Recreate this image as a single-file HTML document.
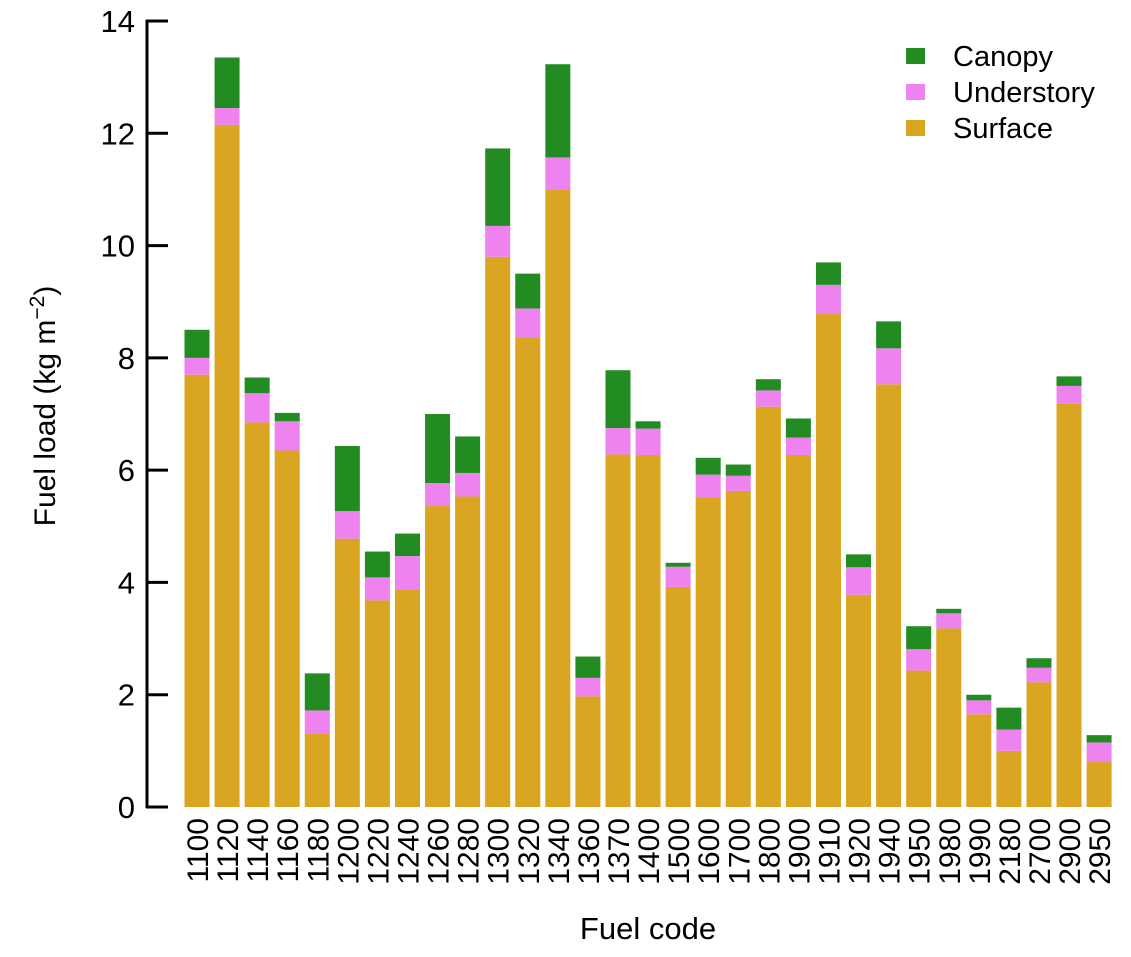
<!DOCTYPE html>
<html><head><meta charset="utf-8"><style>
body{margin:0;background:#fff;}
svg{display:block;font-family:"Liberation Sans",Arial,sans-serif;}
</style></head><body>
<div style="position:relative;width:1131px;height:957px">
<svg id="chart" width="1131" height="957" style="position:absolute;left:0;top:0"></svg>
<svg width="1131" height="957" style="position:absolute;left:0;top:0">
<text x="648" y="939" text-anchor="middle" font-size="31" font-family="Liberation Sans,sans-serif">Fuel code</text>
<text transform="translate(55,406) rotate(-90)" text-anchor="middle" font-size="30" font-family="Liberation Sans,sans-serif">Fuel load (kg m<tspan dy="-11" font-size="21">−2</tspan><tspan dy="11">)</tspan></text>
<g font-family="Liberation Sans,sans-serif" font-size="29">
<rect x="906" y="48" width="19" height="16" fill="#228B22"/>
<text x="953" y="66">Canopy</text>
<rect x="906" y="84" width="19" height="16" fill="#EE82EE"/>
<text x="953" y="102">Understory</text>
<rect x="906" y="120" width="19" height="16" fill="#DAA520"/>
<text x="953" y="138">Surface</text>
</g>
</svg>
</div>
<script>
const categories=["1100","1120","1140","1160","1180","1200","1220","1240","1260","1280","1300","1320","1340","1360","1370","1400","1500","1600","1700","1800","1900","1910","1920","1940","1950","1980","1990","2180","2700","2900","2950"];
const surface=[7.7,12.15,6.85,6.35,1.3,4.78,3.68,3.88,5.36,5.53,9.8,8.37,11.0,1.97,6.28,6.27,3.92,5.52,5.63,7.13,6.27,8.78,3.78,7.53,2.43,3.18,1.65,1.0,2.22,7.18,0.8];
const understory=[0.3,0.3,0.52,0.52,0.42,0.49,0.41,0.59,0.41,0.42,0.55,0.51,0.57,0.33,0.47,0.47,0.36,0.4,0.27,0.29,0.31,0.52,0.49,0.64,0.38,0.27,0.25,0.38,0.26,0.32,0.35];
const canopy=[0.5,0.9,0.28,0.15,0.66,1.16,0.46,0.4,1.23,0.65,1.38,0.62,1.66,0.38,1.03,0.13,0.07,0.3,0.2,0.2,0.34,0.4,0.23,0.48,0.41,0.08,0.1,0.39,0.17,0.17,0.13];
const yTicks=[0,2,4,6,8,10,12,14];
const NS="http://www.w3.org/2000/svg";
const svg=document.getElementById('chart');
const y0=807,y14=21;
function yScale(v){return y0-(y0-y14)*v/14;}
function xScale(i){return 197+i*30.07;}
function el(t,a,p){const e=document.createElementNS(NS,t);for(const k in a)e.setAttribute(k,a[k]);(p||svg).appendChild(e);return e;}
const ax=el('g',{});


el('line',{x1:147,x2:147,y1:yScale(0)+1,y2:yScale(14)-1,stroke:'#000','stroke-width':3},ax);
yTicks.forEach(t=>{
  el('line',{x1:146,x2:168,y1:yScale(t),y2:yScale(t),stroke:'#000','stroke-width':3},ax);
  const tx=el('text',{x:135,y:yScale(t)+11,'text-anchor':'end','font-size':31},ax);
  tx.textContent=t;
  
  
});
const series=[[surface,'#DAA520','surface'],[understory,'#EE82EE','understory'],[canopy,'#228B22','canopy']];
categories.forEach((c,i)=>{
  let base=0;
  series.forEach(([arr,col,nm])=>{
    const v=arr[i];
    const r=el('rect',{x:xScale(i)-12.5,width:25,y:yScale(base+v),height:yScale(base)-yScale(base+v),fill:col});
    
    
    base+=v;
  });
  const t=el('text',{x:0,y:0,'text-anchor':'end','font-size':30,transform:`translate(${xScale(i)+11},818) rotate(-90)`});
  t.textContent=c;
  
  
});
</script>
</body></html>
